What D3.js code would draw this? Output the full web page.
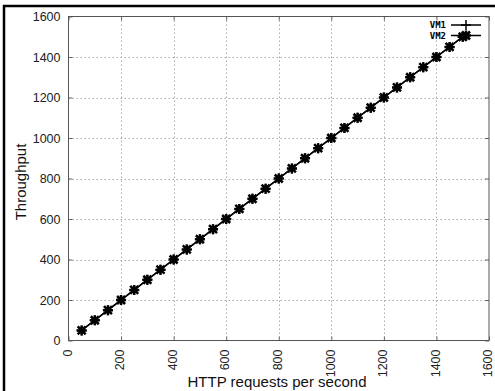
<!DOCTYPE html>
<html>
<head>
<meta charset="utf-8">
<script src="https://cdn.jsdelivr.net/npm/d3@7/dist/d3.min.js"></script>
<style>
  body { margin: 0; background: #fff; }
  svg { display: block; }
</style>
</head>
<body>
<div id="chart"></div>
<script>
// values
const requests = [50, 100, 150, 200, 250, 300, 350, 400, 450, 500, 550, 600, 650, 700, 750,
                  800, 850, 900, 950, 1000, 1050, 1100, 1150, 1200, 1250, 1300, 1350, 1400, 1450, 1500];
const vm1 = [50, 100, 150, 200, 250, 300, 350, 400, 450, 500, 550, 600, 650, 700, 750,
             800, 850, 900, 950, 1000, 1050, 1100, 1150, 1200, 1250, 1300, 1350, 1400, 1450, 1500];
const vm2 = [50, 100, 150, 200, 250, 300, 350, 400, 450, 500, 550, 600, 650, 700, 750,
             800, 850, 900, 950, 1000, 1050, 1100, 1150, 1200, 1250, 1300, 1350, 1400, 1450, 1500];
const xTicks = [0, 200, 400, 600, 800, 1000, 1200, 1400, 1600];
const yTicks = [0, 200, 400, 600, 800, 1000, 1200, 1400, 1600];
const seriesNames = ["VM1", "VM2"];

const W = 495, H = 391;
const L = 68.5, T = 16.5, R = 489, B = 340.5;

const svg = d3.select("#chart").append("svg")
    .attr("width", W)
    .attr("height", H);

// outer frame (only top/left visible)
svg.append("rect")
    .attr("x", 4).attr("y", 6)
    .attr("width", W + 10).attr("height", H + 10)
    .attr("fill", "none")
    .attr("stroke", "#000")
    .attr("stroke-width", 2.5);

const x = d3.scaleLinear().domain([0, 1600]).range([L, R]);
const y = d3.scaleLinear().domain([0, 1600]).range([B, T]);

// grid
const grid = svg.append("g").attr("stroke", "#aaa").attr("stroke-dasharray", "1.5,2.5").attr("stroke-width", 1);
grid.selectAll(".gx").data(xTicks.slice(1, -1)).join("line")
    .attr("x1", d => Math.round(x(d)) + 0.5).attr("x2", d => Math.round(x(d)) + 0.5)
    .attr("y1", T).attr("y2", B);
grid.selectAll(".gy").data(yTicks.slice(1, -1)).join("line")
    .attr("y1", d => Math.round(y(d)) + 0.5).attr("y2", d => Math.round(y(d)) + 0.5)
    .attr("x1", L).attr("x2", R);

// axes
const xAxis = svg.append("g")
    .attr("transform", `translate(0,${B})`)
    .call(d3.axisBottom(x).tickValues(xTicks).tickSize(-4).tickFormat(d3.format("d")));
xAxis.selectAll("text")
    .attr("transform", "rotate(-90)")
    .attr("text-anchor", "end")
    .attr("x", -9).attr("y", 0).attr("dy", "0.22em");

const yAxis = svg.append("g")
    .attr("transform", `translate(${L},0)`)
    .call(d3.axisLeft(y).tickValues(yTicks).tickSize(-4).tickFormat(d3.format("d")));
yAxis.selectAll("text").attr("x", -8);

// mirrored ticks on top and right
svg.append("g").attr("transform", `translate(0,${T})`)
    .call(d3.axisTop(x).tickValues(xTicks).tickSize(-4).tickFormat(""));
svg.append("g").attr("transform", `translate(${R},0)`)
    .call(d3.axisRight(y).tickValues(yTicks).tickSize(-4).tickFormat(""));

svg.selectAll(".domain").attr("stroke", "none");
svg.selectAll(".tick line").attr("stroke", "#666");
svg.selectAll(".tick text")
    .attr("font-family", "Liberation Sans, Arial, sans-serif")
    .attr("font-size", 12.5)
    .attr("fill", "#222");

// border
svg.append("rect")
    .attr("x", L).attr("y", T)
    .attr("width", R - L).attr("height", B - T)
    .attr("fill", "none")
    .attr("stroke", "#555")
    .attr("stroke-width", 1);

// axis titles
svg.append("text")
    .attr("x", 277).attr("y", 387)
    .attr("text-anchor", "middle")
    .attr("font-family", "Liberation Sans, Arial, sans-serif")
    .attr("font-size", 15)
    .attr("fill", "#111")
    .text("HTTP requests per second");
svg.append("text")
    .attr("transform", "translate(26,182) rotate(-90)")
    .attr("text-anchor", "middle")
    .attr("font-family", "Liberation Sans, Arial, sans-serif")
    .attr("font-size", 15)
    .attr("fill", "#111")
    .text("Throughput");

// series
const line = d3.line().x(d => x(d[0])).y(d => y(d[1]));
const s1 = requests.map((r, i) => [r, vm1[i]]);
const s2 = requests.map((r, i) => [r, vm2[i]]);

const plusPath = s => `M${-s},0H${s}M0,${-s}V${s}`;
const starPath = s => `M${-s},0H${s}M0,${-s}V${s}M${-s * 0.8},${-s * 0.8}L${s * 0.8},${s * 0.8}M${-s * 0.8},${s * 0.8}L${s * 0.8},${-s * 0.8}`;

svg.append("path").datum(s1)
    .attr("d", line).attr("fill", "none").attr("stroke", "#000").attr("stroke-width", 1.5);
svg.append("path").datum(s2)
    .attr("d", line).attr("fill", "none").attr("stroke", "#000").attr("stroke-width", 1.5);

svg.append("g").selectAll("path").data(s1).join("path")
    .attr("transform", d => `translate(${x(d[0])},${y(d[1])})`)
    .attr("d", plusPath(5)).attr("stroke", "#000").attr("stroke-width", 1.5);
svg.append("g").selectAll("path").data(s2).join("path")
    .attr("transform", d => `translate(${x(d[0])},${y(d[1])})`)
    .attr("d", starPath(5)).attr("stroke", "#000").attr("stroke-width", 2.5);

// legend
const leg = svg.append("g");
seriesNames.forEach((name, i) => {
  const ly = 25 + i * 10.5;
  leg.append("text")
      .attr("x", 446).attr("y", ly).attr("dy", "0.35em")
      .attr("text-anchor", "end")
      .attr("font-family", "DejaVu Sans Mono, monospace")
      .attr("font-weight", "bold")
      .attr("font-size", 9)
      .attr("fill", "#000")
      .text(name);
  leg.append("line")
      .attr("x1", 451).attr("x2", 481).attr("y1", ly).attr("y2", ly)
      .attr("stroke", "#000").attr("stroke-width", 1.5);
  leg.append("path")
      .attr("transform", `translate(466,${ly})`)
      .attr("d", i === 0 ? plusPath(5) : starPath(5))
      .attr("stroke", "#000").attr("stroke-width", i === 0 ? 1.5 : 2.5);
});
</script>
</body>
</html>
